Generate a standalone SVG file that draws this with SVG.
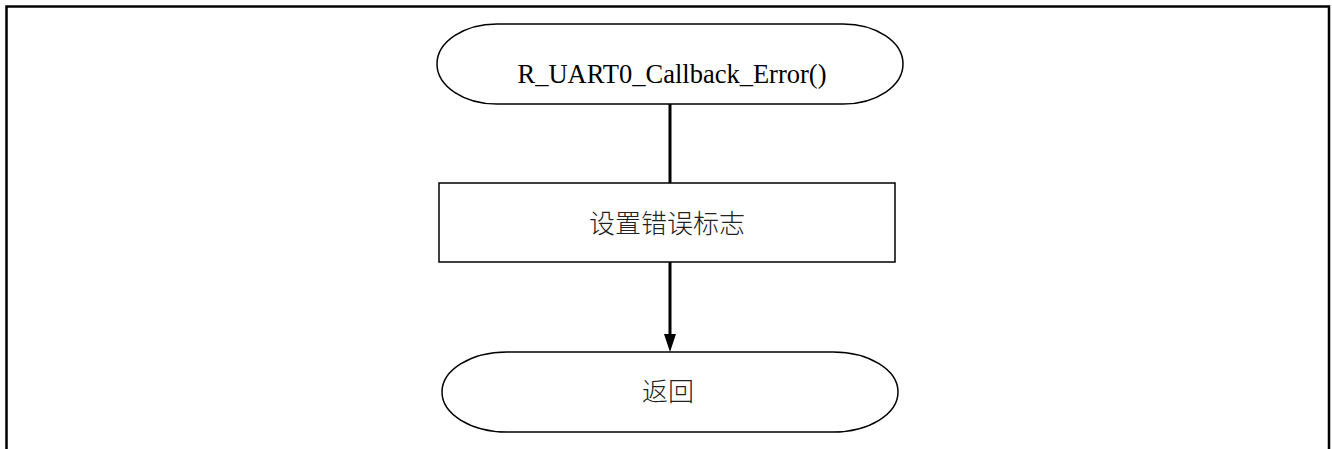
<svg xmlns="http://www.w3.org/2000/svg" width="1332" height="449" viewBox="0 0 1332 449">
<style>
.frame{fill:none;stroke:#000;stroke-width:2.5}
.shape{fill:#fff;stroke:#000;stroke-width:1.5}
.conn{fill:none;stroke:#000;stroke-width:3}
.t{font-family:"Liberation Serif","Times New Roman",serif;font-size:26.5px;fill:#000;text-anchor:middle}
.c{font-family:"Noto Sans CJK SC","Noto Sans",sans-serif;font-size:26px;font-weight:300;fill:#222;text-anchor:middle}
</style>
<path class="frame" d="M6.5,449 V6.5 H1329 V449"/>
<g id="connectors">
<line class="conn" x1="670" y1="104" x2="670" y2="183"/>
<line class="conn" x1="670" y1="262" x2="670" y2="335"/>
<path d="M664,334 L676,334 L670,352 Z" fill="#000"/>
</g>
<g id="start">
<rect class="shape" x="437" y="24" width="466" height="80" rx="60" ry="40" stroke-width="2"/>
<text class="t" x="672" y="83">R_UART0_Callback_Error()</text>
</g>
<g id="process">
<rect class="shape" x="439" y="183" width="456" height="79" stroke-width="2"/>
<text class="c" x="667" y="233">设置错误标志</text>
</g>
<g id="end">
<rect class="shape" x="442" y="352" width="456" height="80" rx="65" ry="40"/>
<text class="c" x="668" y="401">返回</text>
</g>
</svg>
